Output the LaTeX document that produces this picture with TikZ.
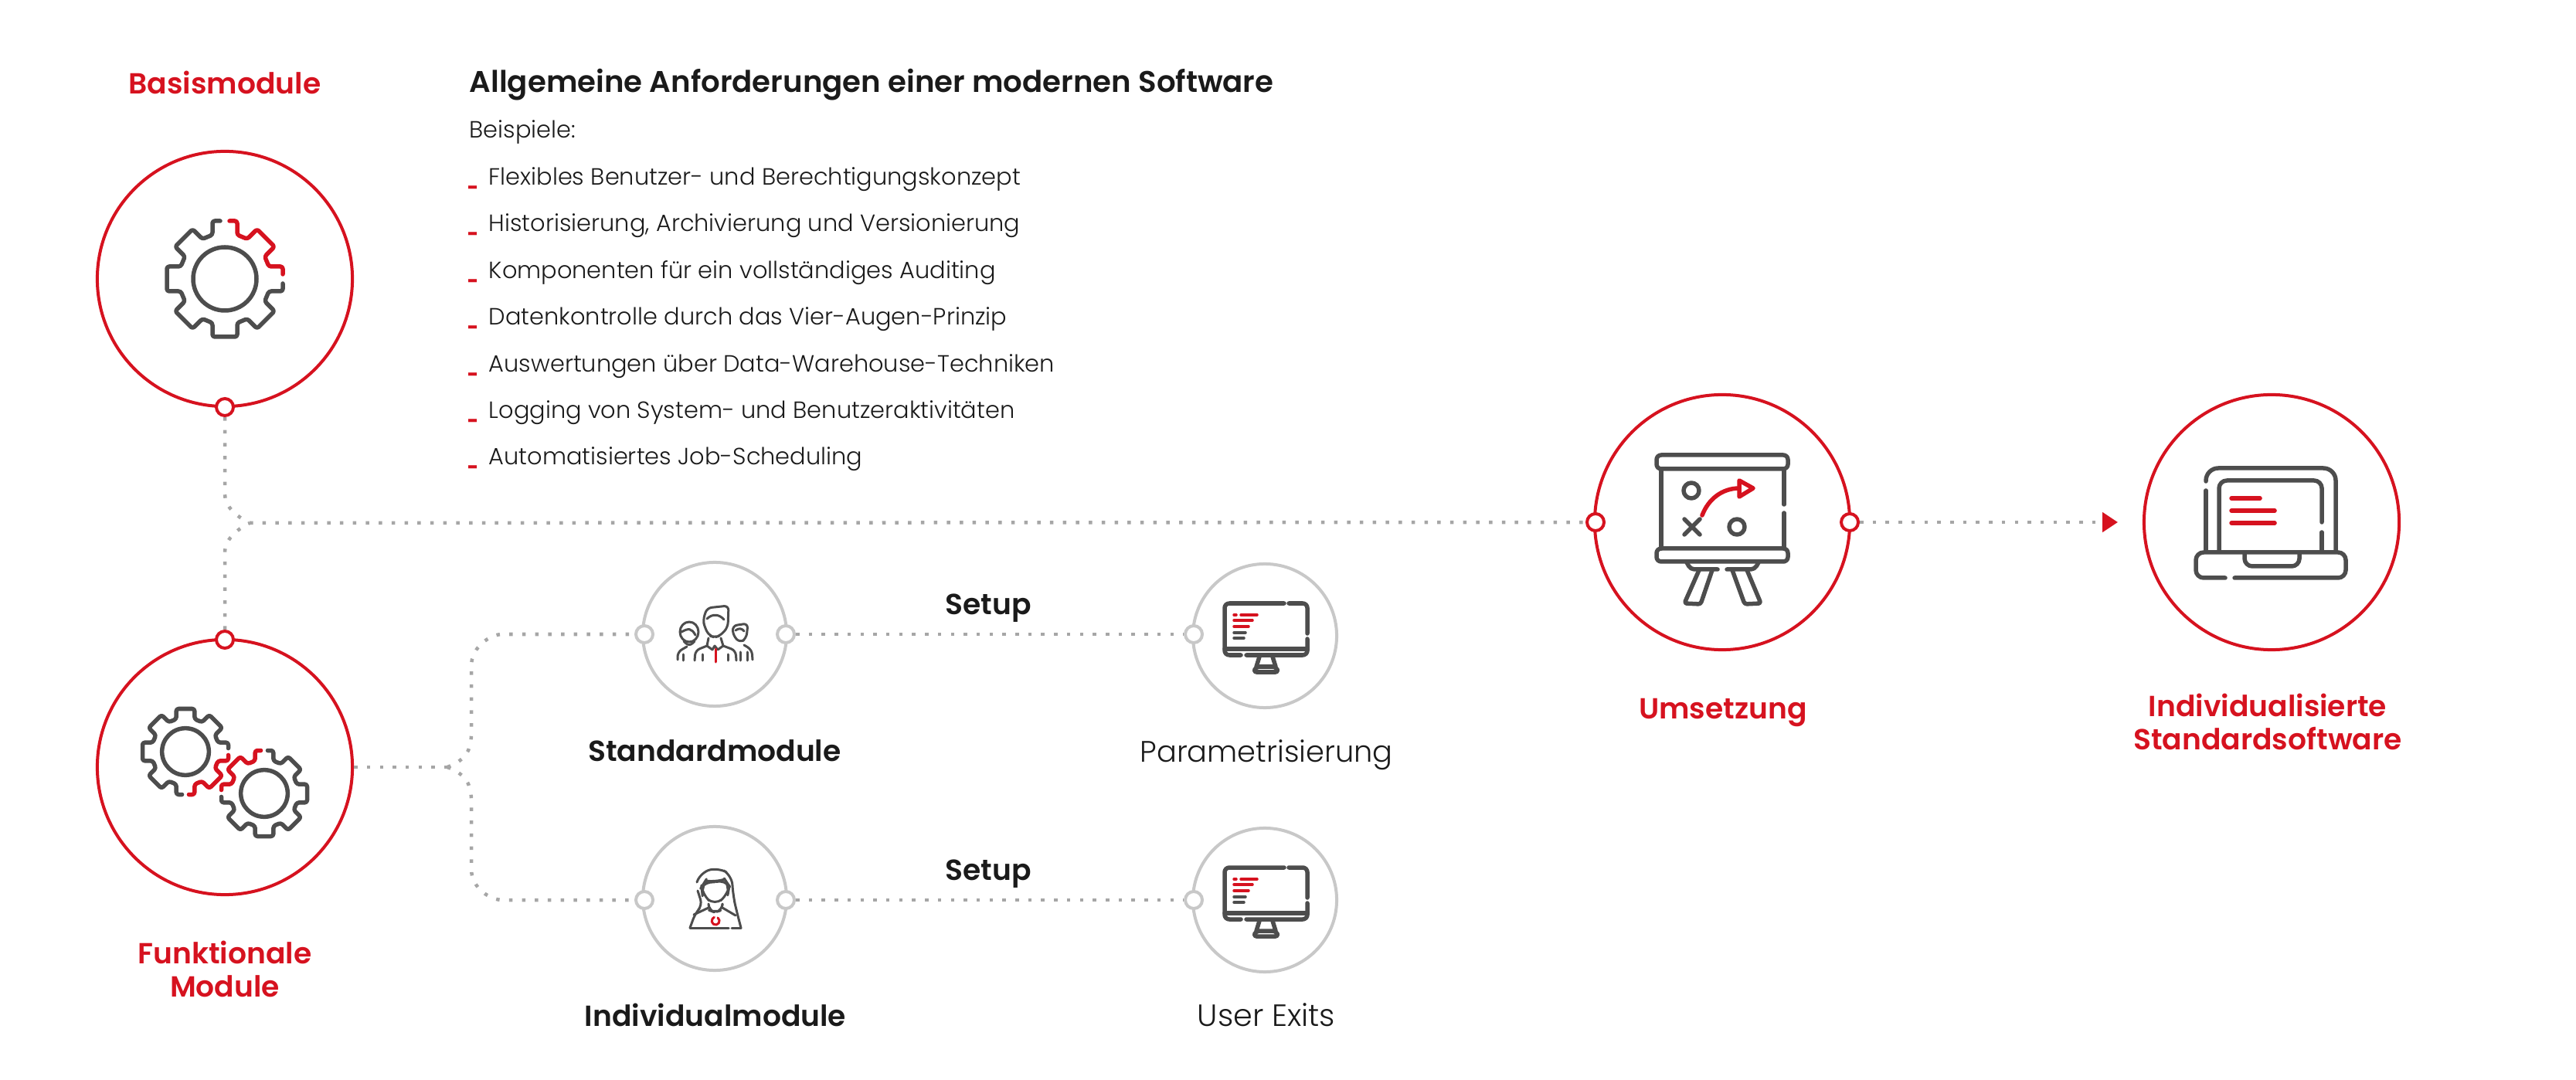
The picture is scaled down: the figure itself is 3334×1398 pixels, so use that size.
\documentclass[tikz,border=0pt]{standalone}
\usepackage{fontspec}
\setmainfont{Poppins}[UprightFont=* Light,BoldFont=* SemiBold]
\usetikzlibrary{arrows.meta}
\definecolor{appred}{HTML}{D6121F}
\definecolor{appgrey}{HTML}{C8C8C8}
\definecolor{dotgrey}{HTML}{A6A6A6}
\definecolor{icongrey}{HTML}{4D4D4D}
\definecolor{appink}{HTML}{1A1A1A}
\begin{document}
\begin{tikzpicture}[x=.01cm,y=-.01cm]
		\tikzset{bigvertex/.style = {shape=circle,draw=appred,line width=.04cm,minimum size=3.3cm,inner sep=0pt}}
		\tikzset{midvertex/.style = {shape=circle,draw=appgrey,line width=.04cm,minimum size=1.86cm,inner sep=0pt}}
		\tikzset{redport/.style = {shape=circle,draw=appred,fill=white,line width=.04cm,minimum size=.22cm,inner sep=0pt}}
		\tikzset{greyport/.style = {shape=circle,draw=appgrey,fill=white,line width=.04cm,minimum size=.22cm,inner sep=0pt}}
		\tikzset{dotline/.style = {draw=dotgrey,line width=.045cm,dash pattern=on .045cm off .122cm}}
		\tikzset{iconline/.style = {draw=icongrey,line width=.055cm,line cap=round,line join=round}}
		\tikzset{iconthin/.style = {iconline,line width=.03cm}}
		\tikzset{iconred/.style = {iconline,draw=appred}}
		\tikzset{redtitle/.style = {anchor=base,text=appred,align=center,inner sep=0pt,font=\fontsize{10.7}{11.95}\selectfont\bfseries}}
		\tikzset{inktitle/.style = {anchor=base,text=appink,inner sep=0pt,font=\fontsize{10.7}{12}\selectfont\bfseries}}
		\tikzset{plainlabel/.style = {anchor=base,text=appink,inner sep=0pt,font=\fontsize{10.9}{12}\selectfont}}
		\tikzset{bodyline/.style = {anchor=base west,text=appink,inner sep=0pt,font=\fontsize{8.65}{10}\selectfont}}
		\tikzset{gearicon/.pic = {
			\draw[iconred,rounded corners=.03cm] (6,-75) -- (16,-75) -- (16,-57) -- ([rotate=-45]-16,-57) -- ([rotate=-45]-16,-75) -- ([rotate=-45]16,-75) -- ([rotate=-45]16,-57) -- ([rotate=-90]-16,-57) -- ([rotate=-90]-16,-75) -- ([rotate=-90]-6,-75);
			\draw[iconline,rounded corners=.03cm] ([rotate=-90]6,-75) -- ([rotate=-90]16,-75) -- ([rotate=-90]16,-57) foreach \a in {135,180,...,315} { -- ([rotate=-\a]-16,-57) -- ([rotate=-\a]-16,-75) -- ([rotate=-\a]16,-75) -- ([rotate=-\a]16,-57) } -- (-16,-57) -- (-16,-75) -- (-6,-75);
			\draw[iconline] (0,0) circle[radius=41];
		}}
		\tikzset{groupicon/.pic = {
			\draw[iconthin,rounded corners=.06cm] (-15,-19) -- (-10,-34) -- (18,-37) -- (17,-9) -- (7,2) -- (0,4) -- (-7,2) -- (-13,-9) -- cycle;
			\draw[iconthin] (-10,-20) .. controls (-3,-27) and (6,-26) .. (12,-19);
			\draw[iconthin] (-8,5) -- (-10,15) -- (-3,20) -- (0,15) -- (4,20) -- (11,15) -- (8,5);
			\draw[iconthin,rounded corners=.06cm] (-10,15) -- (-25,21) -- (-26,34);
			\draw[iconthin,rounded corners=.06cm] (11,15) -- (27,21) -- (28,34);
			\draw[iconthin] (-16,26) -- (-16,34) (17,26) -- (17,34);
			\draw[iconthin] (-33,-3) ellipse[x radius=12,y radius=13];
			\draw[iconthin] (-43,-3) .. controls (-34,-8) and (-30,-8) .. (-25,1);
			\draw[iconthin,rounded corners=.06cm] (-40,9) -- (-33,16) -- (-26,9);
			\draw[iconthin,rounded corners=.06cm] (-36,16) -- (-48,23) -- (-48,33);
			\draw[iconthin] (-41,26) -- (-41,34);
			\draw[iconthin,rounded corners=.06cm] (23,-11) -- (43,-14) -- (41,5) -- (33,11) -- (24,2) -- cycle;
			\draw[iconthin] (27,-5) .. controls (31,-8) and (35,-8) .. (38,-4);
			\draw[iconthin,rounded corners=.06cm] (38,14) -- (48,20) -- (49,33);
			\draw[iconthin] (42,23) -- (42,34) (33,23) -- (33,34);
			\draw[iconred,line width=.03cm] (1,19) -- (1,36);
		}}
		\tikzset{womanicon/.pic = {
			\draw[iconthin,rounded corners=.12cm] (-23,-21) -- (-18,-34) -- (5,-40) -- (22,-30) -- (24,-3) -- (28,15) -- (34,38);
			\draw[iconthin,rounded corners=.08cm] (-22,-10) -- (-16,9) -- (-25,19) -- (-32,38);
			\draw[iconthin,rounded corners=.12cm] (-17,-15) -- (-12,-23) -- (0,-21) -- (13,-25) -- (19,-16) -- (17,-5) -- (0,9) -- (-16,-5) -- cycle;
			\draw[iconthin,rounded corners=.08cm] (-8,9) -- (-8,15) -- (0,18) -- (10,15) -- (10,9);
			\draw[iconthin] (-27,21) -- (-8,12) (10,12) -- (27,22);
			\draw[iconthin] (-32,38) -- (18,38) (22,38) -- (34,38);
			\draw[iconred,line width=.03cm] (4,25) arc[start angle=-55,end angle=250,radius=5];
		}}
		\tikzset{screenicon/.pic = {
			\draw[iconline,rounded corners=.06cm] (25,-42) -- (-52,-42) -- (-52,25) -- (-31,25);
			\draw[iconline,rounded corners=.06cm] (-24,25) -- (55,25) -- (55,4);
			\draw[iconline,rounded corners=.06cm] (55,-3) -- (55,-42) -- (31,-42);
			\draw[iconline] (-52,17) -- (55,17);
			\draw[iconline] (-7,27) -- (-11,40) (10,27) -- (14,40);
			\draw[iconline,rounded corners=.04cm] (-11,40) -- (14,40) -- (18,47) -- (-15,47) -- cycle;
			\draw[iconred,line width=.035cm] (-40,-27) -- (-37,-27) (-31,-27) -- (-10,-27) (-40,-20) -- (-16,-20) (-40,-12) -- (-21,-12);
			\draw[iconline,line width=.035cm] (-40,-4) -- (-25,-4) (-40,3) -- (-27,3);
		}}
		\tikzset{boardicon/.pic = {
			\draw[iconline,rounded corners=.06cm] (-85,-87) rectangle (85,-69);
			\draw[iconline,rounded corners=.06cm] (-85,34) rectangle (85,51);
			\draw[iconline] (-79,-69) -- (-79,34) (80,-69) -- (80,-23) (80,-12) -- (80,34);
			\draw[iconline] (-40,-41) circle[radius=10] (19,6) circle[radius=10];
			\draw[iconline] (-49,-4) -- (-29,16) (-29,-4) -- (-49,16);
			\draw[iconred] (-26,-9) .. controls (-18,-30) and (0,-44) .. (22,-44);
			\draw[iconred] (22,-54) -- (40,-44) -- (22,-33) -- cycle;
			\draw[iconline,rounded corners=.05cm] (-6,61) -- (-41,61) -- (-46,52);
			\draw[iconline,rounded corners=.05cm] (6,61) -- (42,61) -- (47,52);
			\draw[iconline,rounded corners=.03cm] (-30,62) -- (-49,105) -- (-28,106) -- (-13,62);
			\draw[iconline,rounded corners=.03cm] (13,62) -- (29,106) -- (50,105) -- (32,62);
		}}
		\tikzset{laptopicon/.pic = {
			\draw[iconline,rounded corners=.16cm] (-85,-53) -- (-85,-70) -- (83,-70) -- (83,37);
			\draw[iconline] (-85,-41) -- (-85,37);
			\draw[iconline,rounded corners=.1cm] (-68,37) -- (-68,-54) -- (65,-54) -- (65,0);
			\draw[iconline] (65,13) -- (65,37);
			\draw[iconline,rounded corners=.1cm] (-60,72) -- (-98,72) -- (-98,39) -- (96,39) -- (96,72) -- (-48,72);
			\draw[iconline,rounded corners=.1cm] (-35,40) -- (-35,57) -- (36,57) -- (36,40);
			\draw[iconred] (-52,-31) -- (-15,-31) (-52,-15) -- (4,-15) (-52,1) -- (4,1);
		}}
		\useasboundingbox (0,0) rectangle (3334,1398);
		\node[bigvertex] (basis) at (291,361) {};
		\node[bigvertex] (funktion) at (291,993) {};
		\node[bigvertex] (umsetzung) at (2229,676) {};
		\node[bigvertex] (software) at (2940,676) {};
		\node[midvertex] (standard) at (925,821) {};
		\node[midvertex] (individual) at (925,1163) {};
		\node[midvertex] (param) at (1637,823) {};
		\node[midvertex] (exits) at (1637,1165) {};
		\node[redport] (basisport) at (291,527) {};
		\node[redport] (funktionport) at (291,828) {};
		\node[redport] (umsetzungin) at (2065,676) {};
		\node[redport] (umsetzungout) at (2394,676) {};
		\node[greyport] (standardin) at (834,821) {};
		\node[greyport] (standardout) at (1017,821) {};
		\node[greyport] (paramin) at (1545,821) {};
		\node[greyport] (individualin) at (834,1165) {};
		\node[greyport] (individualout) at (1017,1165) {};
		\node[greyport] (exitsin) at (1545,1165) {};
		\coordinate (mainhub) at (323,677);
		\coordinate (modulehub) at (579,993);
		\coordinate (softarrow) at (2741,676);
		\path[dotline] (basisport) -- (291,640) .. controls (291,655) and (305,668) .. (mainhub);
		\path[dotline] (funktionport) -- (291,714) .. controls (291,700) and (305,686) .. (mainhub);
		\path[dotline] (mainhub) edge (umsetzungin);
		\path[dotline] (funktion) edge (modulehub);
		\path[dotline] (modulehub) .. controls +(20,-8) and +(0,25) .. (610,950) -- (610,862) .. controls +(0,-25) and +(-15,0) .. (650,821) -- (standardin);
		\path[dotline] (modulehub) .. controls +(20,8) and +(0,-25) .. (610,1036) -- (610,1125) .. controls +(0,25) and +(-15,0) .. (650,1165) -- (individualin);
		\path[dotline] (standardout) edge (paramin);
		\path[dotline] (individualout) edge (exitsin);
		\path[dotline,-{Triangle[length=.2cm,width=.25cm,color=appred]}] (umsetzungout) edge (softarrow);
		\pic at (basis) {gearicon};
		\pic[scale=.74,rotate=-90] at (240,973) {gearicon};
		\pic[scale=.74,rotate=90] at (342,1027) {gearicon};
		\pic at (standard) {groupicon};
		\pic at (individual) {womanicon};
		\pic at (param) {screenicon};
		\pic at (exits) {screenicon};
		\pic at (umsetzung) {boardicon};
		\pic at (software) {laptopicon};
		\node[redtitle] (basislabel) at (291,122) {Basismodule};
		\node[redtitle] (funktionlabel) at (291,1290) {Funktionale\\Module};
		\node[redtitle] (umsetzunglabel) at (2230,930) {Umsetzung};
		\node[redtitle] (softwarelabel) at (2935,970) {Individualisierte\\Standardsoftware};
		\node[inktitle] (standardlabel) at (925,985) {Standardmodule};
		\node[inktitle] (individuallabel) at (926,1328) {Individualmodule};
		\node[inktitle] (setupa) at (1279,795) {Setup};
		\node[inktitle] (setupb) at (1279,1139) {Setup};
		\node[plainlabel] (paramlabel) at (1639,986) {Parametrisierung};
		\node[plainlabel,font=\fontsize{11.3}{12}\selectfont] (exitslabel) at (1639,1328) {User Exits};
		\node[inktitle,anchor=base west,font=\fontsize{11}{12}\selectfont\bfseries] (headline) at (607,120) {Allgemeine Anforderungen einer modernen Software};
		\node[bodyline] (beispiele) at (607,179) {Beispiele:};
		\foreach \y/\item in {240/Flexibles Benutzer- und Berechtigungskonzept,300/{Historisierung, Archivierung und Versionierung},361/Komponenten für ein vollständiges Auditing,421/Datenkontrolle durch das Vier-Augen-Prinzip,482/Auswertungen über Data-Warehouse-Techniken,542/Logging von System- und Benutzeraktivitäten,602/Automatisiertes Job-Scheduling}
			\node[bodyline] (item\y) at (604,\y) {\makebox[.28cm][l]{\textcolor{appred}{\scalebox{.62}[1]{\bfseries\_}}}\item};
\end{tikzpicture}
\end{document}
